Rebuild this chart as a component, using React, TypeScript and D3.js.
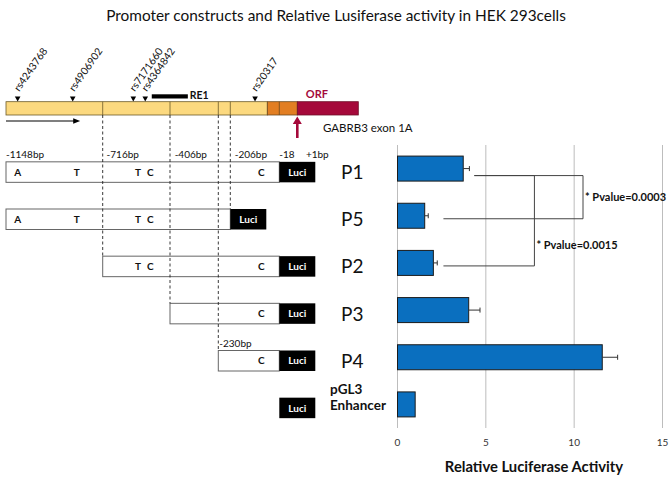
import React from 'react';
import * as d3 from 'd3';

// ---- data ----
const constructs = ['P1', 'P5', 'P2', 'P3', 'P4', 'pGL3 Enhancer'];
const activity = [3.72, 1.54, 2.03, 4.03, 11.59, 1.0];
const activityErr = [0.35, 0.2, 0.22, 0.64, 0.87, 0];
const xTicks = [0, 5, 10, 15];

// promoter fragment starts / ends (bp); null = vector only
const fragStart = [-1148, -1148, -716, -406, -230, null];
const fragEnd = [-18, -206, -18, -18, -18, null];

const snpNames = ['rs4243768', 'rs4906902', 'rs7171660', 'rs4364842', 'rs20317'];
const snpPos = [-1096, -850, -575, -520, -111];
const alleles = ['A', 'T', 'T', 'C', 'C'];
const allelePos = [-1096, -832, -553, -497, -87];

const posLabels = ['-1148bp', '-716bp', '-406bp', '-206bp', '-18', '+1bp'];
const posLabelBp = [-1148, -698, -389, -189, -18, 10];
const cutSites = [-716, -406, -230, -206];

const comparisons = [
  { a: 'P1', b: 'P5', x: 10.5, startA: 4.35, startB: 2.6, label: '* Pvalue=0.0003' },
  { a: 'P1', b: 'P2', x: 7.75, startA: 4.35, startB: 2.6, label: '* Pvalue=0.0015' },
];

const FONT = 'Lato, "Open Sans", sans-serif';

export default function App() {
  const W = 672, H = 481;

  // schematic (non-linear) bp -> px scale for the promoter map
  const bp = d3.scaleLinear()
    .domain([-1148, -716, -406, -230, -206, -18, 1, 65])
    .range([6, 102.7, 170, 218.3, 230.3, 279.3, 297.3, 358.3]);

  const y = d3.scaleBand().domain(constructs).range([145, 428]).paddingInner(0.47).paddingOuter(0.235);
  const x = d3.scaleLinear().domain([0, 15]).range([397.5, 662.5]);

  const barTop = 101.7, barBot = 115;
  const luciW = 36;
  const boxH = 20.5;

  const rowC = (c: string) => (y(c) as number) + y.bandwidth() / 2;

  return (
    <svg width={W} height={H} style={{ position: 'absolute', left: 0, top: 0 }} fontFamily={FONT}>
      <rect width={W} height={H} fill="#fff" />
      <text x={336} y={21} textAnchor="middle" fontSize={15.4} fill="#111">
        Promoter constructs and Relative Lusiferase activity in HEK 293cells
      </text>

      {/* gene map */}
      <rect x={bp(-1148)} y={barTop} width={bp(-64) - bp(-1148)} height={barBot - barTop} fill="#fcd97f" stroke="#6b5a2a" strokeWidth={0.8} />
      {[-716, -406, -230, -206].map((d) => (
        <line key={d} x1={bp(d)} x2={bp(d)} y1={barTop} y2={barBot} stroke="#6b5a2a" strokeWidth={0.8} />
      ))}
      <rect x={bp(-64)} y={barTop} width={bp(1) - bp(-64)} height={barBot - barTop} fill="#e27e22" stroke="#6b4a20" strokeWidth={0.8} />
      <line x1={bp(-18)} x2={bp(-18)} y1={barTop} y2={barBot} stroke="#6b4a20" strokeWidth={0.8} />
      <rect x={bp(1)} y={barTop} width={bp(65) - bp(1)} height={barBot - barTop} fill="#a5093a" stroke="#6e1028" strokeWidth={0.8} />
      <text x={bp(1) + 8.5} y={98} fontSize={11} fontWeight="bold" fill="#a5093a">ORF</text>

      {/* RE1 */}
      <rect x={bp(-490)} y={94.3} width={bp(-341) - bp(-490)} height={4.2} fill="#000" />
      <text x={bp(-341) + 2} y={98.5} fontSize={10.5} fontWeight="bold" fill="#111">RE1</text>

      {/* SNPs */}
      {snpNames.map((n, i) => {
        const sx = bp(snpPos[i]);
        return (
          <g key={n}>
            <path d={`M${sx - 2.8},96.5 L${sx + 2.8},96.5 L${sx},101.5 Z`} fill="#000" />
            <text transform={`translate(${sx + 1.5},92) rotate(-55)`} fontSize={10.3} fill="#111">{n}</text>
          </g>
        );
      })}

      {/* transcription direction arrow */}
      <line x1={bp(-1148)} x2={bp(-830)} y1={121} y2={121} stroke="#000" strokeWidth={1.2} />
      <path d={`M${bp(-830) + 3},121 L${bp(-830) - 4},118.3 L${bp(-830) - 4},123.7 Z`} fill="#000" />

      {/* exon 1A start arrow */}
      <line x1={bp(1)} x2={bp(1)} y1={122} y2={138} stroke="#a5093a" strokeWidth={2.6} />
      <path d={`M${bp(1)},116.5 L${bp(1) - 4.5},124 L${bp(1) + 4.5},124 Z`} fill="#a5093a" />
      <text x={323} y={132} fontSize={11.5} fill="#111">GABRB3 exon 1A</text>

      {/* position labels */}
      {posLabels.map((t, i) => (
        <text key={t} x={bp(posLabelBp[i])} y={158} fontSize={10} fill="#111">{t}</text>
      ))}
      <text x={bp(-230) + 1} y={347} fontSize={10} fill="#111">-230bp</text>

      {/* constructs */}
      {constructs.map((c, i) => {
        const cy = rowC(c) + 3.5;
        const s = fragStart[i], e = fragEnd[i];
        const luciX = e === null ? bp(-18) : bp(e);
        return (
          <g key={c}>
            {s !== null && e !== null && (
              <rect x={bp(s)} y={cy - boxH / 2} width={bp(e) - bp(s)} height={boxH} fill="#fff" stroke="#666" strokeWidth={1} />
            )}
            {s !== null && e !== null && alleles.map((a, k) => (
              allelePos[k] > s && allelePos[k] < e ? (
                <text key={k} x={bp(allelePos[k])} y={cy + 3.6} textAnchor="middle" fontSize={10} fontWeight="bold" fill="#111">{a}</text>
              ) : null
            ))}
            <rect x={luciX} y={cy - boxH / 2} width={luciW} height={boxH} fill="#000" />
            <text x={luciX + luciW / 2} y={cy + 3.6} textAnchor="middle" fontSize={10} fontWeight="bold" fill="#fff">Luci</text>
          </g>
        );
      })}

      {/* cut-site dashed guides */}
      {cutSites.map((d) => {
        const idx = fragStart.indexOf(d);
        const target = idx >= 0 ? constructs[idx] : 'P5';
        const yEnd = rowC(target) + 3.5 - boxH / 2;
        return <line key={d} x1={bp(d)} x2={bp(d)} y1={barBot} y2={yEnd} stroke="#222" strokeWidth={0.9} strokeDasharray="3,2.5" />;
      })}

      {/* row labels */}
      {constructs.map((c) => {
        const cy = rowC(c) + 3.5;
        if (c.startsWith('pGL3')) {
          const [a, b] = c.split(' ');
          return (
            <g key={c} fontWeight="bold" fontSize={13.5} fill="#111">
              <text x={330} y={cy - 14}>{a}</text>
              <text x={330} y={cy + 2}>{b}</text>
            </g>
          );
        }
        return <text key={c} x={341} y={cy + 7} fontSize={19} fill="#111">{c}</text>;
      })}

      {/* bar chart grid */}
      {xTicks.map((t) => (
        <g key={t}>
          <line x1={x(t)} x2={x(t)} y1={145} y2={428} stroke="#bdbdbd" strokeWidth={1} />
          <text x={x(t)} y={446} textAnchor="middle" fontSize={10} fill="#333">{t}</text>
        </g>
      ))}
      <text x={534} y={472} textAnchor="middle" fontSize={14.8} fontWeight="bold" fill="#111">Relative Luciferase Activity</text>

      {/* bars */}
      {constructs.map((c, i) => {
        const by = y(c) as number;
        const bh = y.bandwidth();
        const ex = x(activity[i] + activityErr[i]);
        return (
          <g key={c}>
            <rect x={x(0)} y={by} width={x(activity[i]) - x(0)} height={bh} fill="#0a6fbf" stroke="#1b1b1b" strokeWidth={1} />
            {activityErr[i] > 0 && (
              <g stroke="#333" strokeWidth={1}>
                <line x1={x(activity[i])} x2={ex} y1={by + bh / 2} y2={by + bh / 2} />
                <line x1={ex} x2={ex} y1={by + bh / 2 - 2.5} y2={by + bh / 2 + 2.5} />
              </g>
            )}
          </g>
        );
      })}

      {/* significance brackets */}
      {comparisons.map((cmp) => {
        const ya = rowC(cmp.a) + 7;
        const yb = rowC(cmp.b) + 3;
        return (
          <g key={cmp.label}>
            <path d={`M${x(cmp.startA)},${ya} H${x(cmp.x)} V${yb} H${x(cmp.startB)}`} fill="none" stroke="#444" strokeWidth={1} />
            <text x={x(cmp.x) + 2} y={cmp.b === 'P5' ? (ya + yb) / 2 + 4 : yb - 17} fontSize={11} fontWeight="bold" fill="#111">{cmp.label}</text>
          </g>
        );
      })}
    </svg>
  );
}
